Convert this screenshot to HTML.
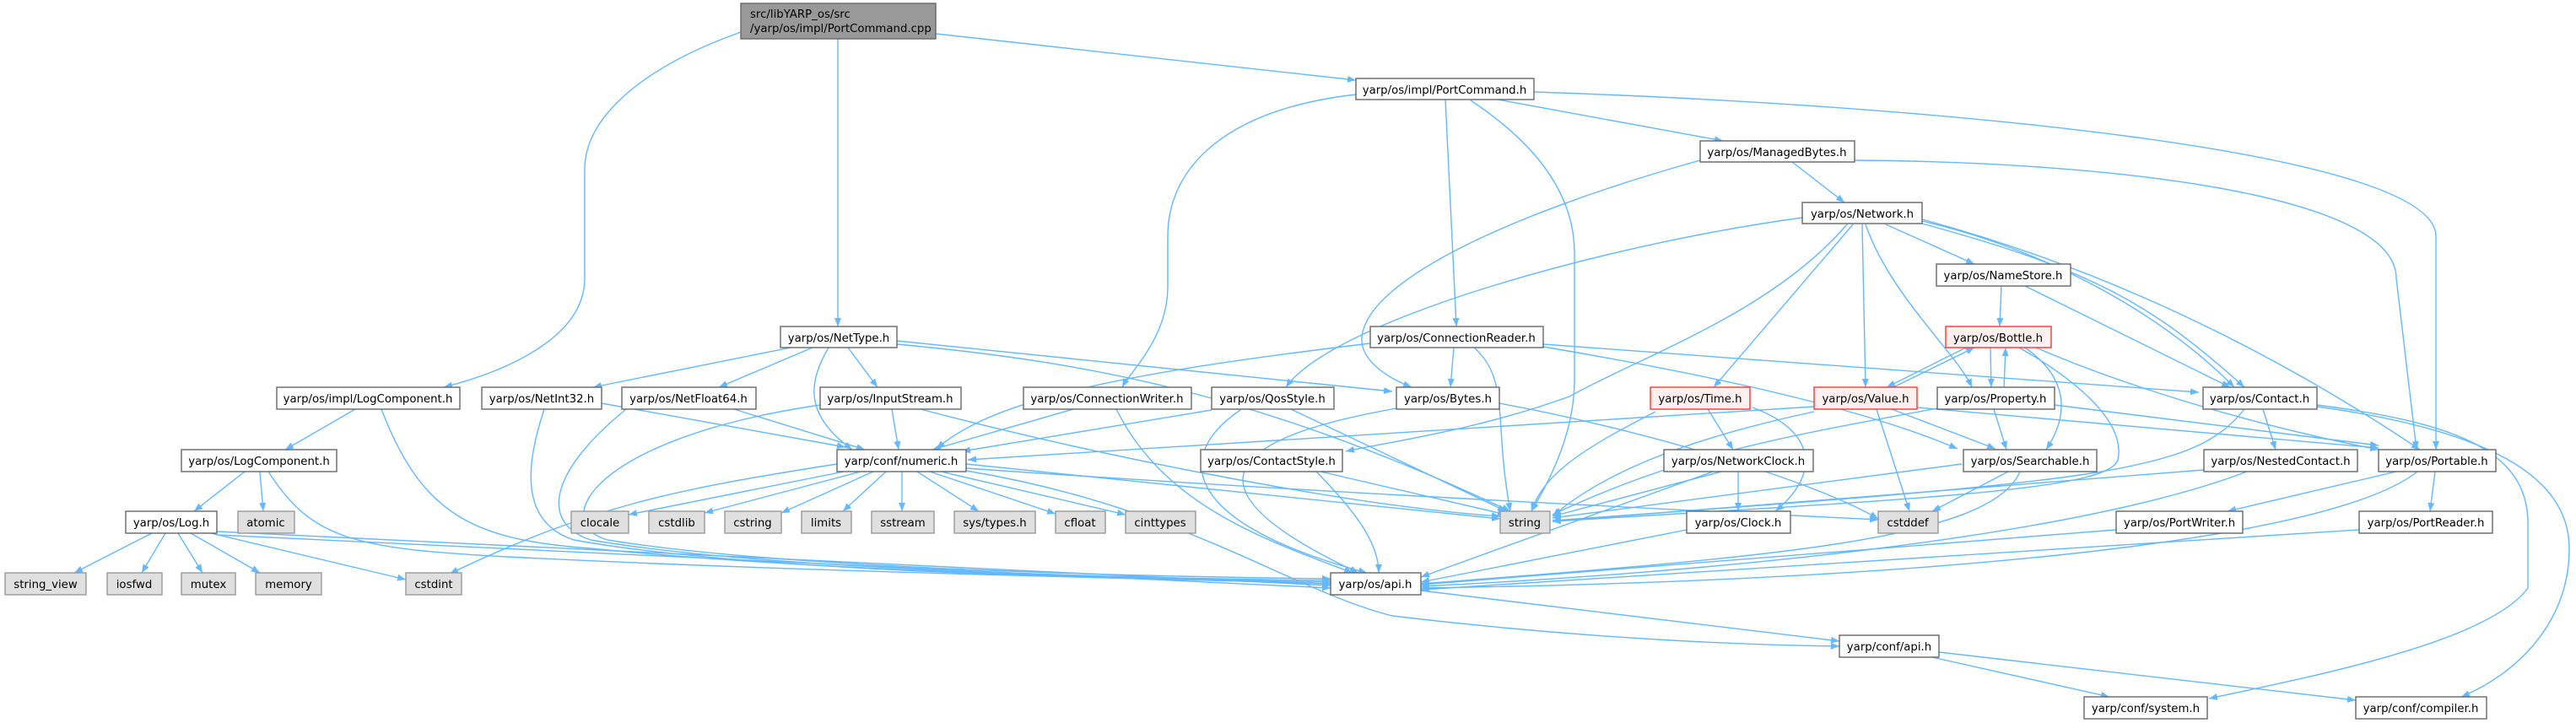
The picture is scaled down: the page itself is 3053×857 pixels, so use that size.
<!DOCTYPE html>
<html><head><meta charset="utf-8"><style>
html,body{margin:0;padding:0;background:#fff;}
svg{display:block;}
text{font-family:"DejaVu Sans","Liberation Sans",sans-serif;font-size:13.3px;fill:#000;}
.e{fill:none;stroke:#63b8ff;stroke-width:1.4;marker-end:url(#a);}
.n{fill:#fff;stroke:#666;stroke-width:1.4;}
.g{fill:#e0e0e0;stroke:#999;stroke-width:1.4;}
.r{fill:#fff0f0;stroke:#f33;stroke-width:1.4;}
.m{fill:#999;stroke:#666;stroke-width:1.4;}
</style></head><body>
<svg width="3053" height="857" viewBox="0 0 3053 857" xmlns="http://www.w3.org/2000/svg">
<defs><marker id="a" markerUnits="userSpaceOnUse" markerWidth="11" markerHeight="8" refX="10" refY="4" orient="auto"><path d="M0,0 L10,4 L0,8 z" fill="#63b8ff"/></marker></defs>
<g>
<path class="e" d="M878,38 C760,80 693,140 693,200 L693,330 C693,400 600,440 526,459"/>
<path class="e" d="M993,46 L993,387"/>
<path class="e" d="M1109,40 L1607,95"/>
<path class="e" d="M1607,112 C1450,130 1384,200 1384,280 L1384,340 C1384,400 1340,440 1330,459"/>
<path class="e" d="M1713,118 L1726,387"/>
<path class="e" d="M1743,119 C1820,170 1866,230 1866,300 L1866,450 C1866,520 1830,580 1815,606"/>
<path class="e" d="M1775,118 L2042,167"/>
<path class="e" d="M1818,109 C2300,125 2887,180 2887,280 L2887,533"/>
<path class="e" d="M2015,190 C1800,250 1620,330 1614,400 C1612,430 1650,450 1673,459"/>
<path class="e" d="M1723,412 L1719,459"/>
<path class="e" d="M2124,192 L2186,240"/>
<path class="e" d="M2198,190 C2500,192 2840,230 2840,330 L2864,533"/>
<path class="e" d="M2136,258 C1900,290 1580,380 1524,459"/>
<path class="e" d="M2189,266 C2100,370 1950,420 1860,470 C1750,510 1640,525 1595,535"/>
<path class="e" d="M2196,266 L2031,459"/>
<path class="e" d="M2207,266 L2211,459"/>
<path class="e" d="M2211,266 C2240,350 2320,420 2337,459"/>
<path class="e" d="M2235,266 L2340,313"/>
<path class="e" d="M2278,262 C2440,300 2570,380 2648,459"/>
<path class="e" d="M2278,265 C2480,320 2550,360 2660,459"/>
<path class="e" d="M2278,260 C2500,320 2700,420 2868,533"/>
<path class="e" d="M2372,339 L2370,387"/>
<path class="e" d="M2400,339 L2643,459"/>
<path class="e" d="M2330,412 L2236,459"/>
<path class="e" d="M2244,459 L2340,412"/>
<path class="e" d="M2359,412 L2360,459"/>
<path class="e" d="M2375,459 L2377,412"/>
<path class="e" d="M2400,412 C2440,440 2460,480 2425,533"/>
<path class="e" d="M2413,412 C2500,450 2650,500 2819,533"/>
<path class="e" d="M2393,412 C2460,450 2520,500 2510,545 C2500,580 2300,590 1840,618"/>
<path class="e" d="M2242,485 L2365,532"/>
<path class="e" d="M2272,483 L2819,531"/>
<path class="e" d="M2224,485 L2263,606"/>
<path class="e" d="M2150,482 L1147,545"/>
<path class="e" d="M2150,488 C2000,520 1900,560 1840,612"/>
<path class="e" d="M2363,485 L2378,533"/>
<path class="e" d="M2435,480 L2819,528"/>
<path class="e" d="M2296,484 C2100,520 1990,540 1840,610"/>
<path class="e" d="M2024,485 L2054,533"/>
<path class="e" d="M2077,483 C2150,510 2160,560 2104,606"/>
<path class="e" d="M1962,488 C1880,530 1830,560 1815,606"/>
<path class="e" d="M1777,478 C1950,510 2150,570 2226,615"/>
<path class="e" d="M1829,408 L2606,465"/>
<path class="e" d="M1829,411 C2000,440 2200,480 2320,532"/>
<path class="e" d="M1624,407 C1350,440 1180,470 1110,532"/>
<path class="e" d="M1747,412 C1790,450 1770,500 1790,606"/>
<path class="e" d="M937,412 L703,459"/>
<path class="e" d="M963,412 L852,459"/>
<path class="e" d="M1005,412 L1040,459"/>
<path class="e" d="M982,412 C960,450 950,490 1010,533"/>
<path class="e" d="M1063,404 L1650,464"/>
<path class="e" d="M1063,408 C1300,430 1500,470 1790,606"/>
<path class="e" d="M713,478 L1002,530"/>
<path class="e" d="M645,485 C620,560 620,620 680,640 C900,680 1400,688 1577,690"/>
<path class="e" d="M742,485 C650,560 640,620 700,640 C920,678 1400,686 1577,688"/>
<path class="e" d="M870,485 L1025,533"/>
<path class="e" d="M1057,485 L1065,533"/>
<path class="e" d="M972,480 C700,520 650,620 720,640 C940,676 1400,684 1577,686"/>
<path class="e" d="M1091,485 C1300,540 1600,600 1778,612"/>
<path class="e" d="M1272,485 L1105,533"/>
<path class="e" d="M1323,485 C1380,600 1500,640 1603,679"/>
<path class="e" d="M1436,486 L1140,535"/>
<path class="e" d="M1530,485 L1785,606"/>
<path class="e" d="M1470,486 C1390,540 1400,620 1620,679"/>
<path class="e" d="M1655,484 C1421,525 1420,590 1610,679"/>
<path class="e" d="M1565,559 L1785,610"/>
<path class="e" d="M1560,559 C1600,600 1634,640 1634,679"/>
<path class="e" d="M1000,559 L745,610"/>
<path class="e" d="M1020,559 L835,608"/>
<path class="e" d="M1035,559 L926,608"/>
<path class="e" d="M1050,559 L999,606"/>
<path class="e" d="M1069,559 L1069,606"/>
<path class="e" d="M1087,559 L1160,606"/>
<path class="e" d="M1102,559 L1251,609"/>
<path class="e" d="M1115,559 L1334,610"/>
<path class="e" d="M992,550 C800,580 700,600 533,680"/>
<path class="e" d="M1145,550 L1778,615"/>
<path class="e" d="M1145,555 C1500,580 1900,600 2226,616"/>
<path class="e" d="M1145,558 C1400,600 1530,700 1650,730 C1900,760 2100,765 2180,766"/>
<path class="e" d="M290,559 L230,606"/>
<path class="e" d="M308,559 L312,606"/>
<path class="e" d="M318,559 C370,640 420,650 600,660 C1000,680 1400,686 1577,692"/>
<path class="e" d="M421,485 L338,533"/>
<path class="e" d="M452,485 C500,610 560,640 700,650 C1000,680 1400,686 1577,690"/>
<path class="e" d="M180,632 L88,679"/>
<path class="e" d="M196,632 L168,679"/>
<path class="e" d="M211,632 L240,679"/>
<path class="e" d="M226,632 L308,679"/>
<path class="e" d="M250,632 L481,687"/>
<path class="e" d="M257,630 L1577,694"/>
<path class="e" d="M257,634 L1577,697"/>
<path class="e" d="M2040,559 L1840,612"/>
<path class="e" d="M2030,559 L1684,684"/>
<path class="e" d="M2060,559 L2060,606"/>
<path class="e" d="M1999,628 L1684,690"/>
<path class="e" d="M2325,550 L1840,614"/>
<path class="e" d="M2380,559 L2290,606"/>
<path class="e" d="M2394,559 C2360,640 2100,660 1684,692"/>
<path class="e" d="M2660,485 C2600,560 2500,570 1840,617"/>
<path class="e" d="M2682,485 L2697,533"/>
<path class="e" d="M2746,480 C2900,500 2996,530 2996,620 L2996,697 C2950,760 2750,800 2618,828"/>
<path class="e" d="M2746,482 C2950,510 3045,565 3045,650 C3045,740 2980,800 2917,826"/>
<path class="e" d="M2612,557 L1840,618"/>
<path class="e" d="M2663,559 C2450,640 2000,680 1684,695"/>
<path class="e" d="M2840,559 L2640,606"/>
<path class="e" d="M2886,559 L2880,606"/>
<path class="e" d="M2865,559 C2750,650 2200,690 1684,697"/>
<path class="e" d="M2508,628 L1684,693"/>
<path class="e" d="M2796,628 L1684,699"/>
<path class="e" d="M1684,700 L2180,760"/>
<path class="e" d="M2290,779 L2500,826"/>
<path class="e" d="M2298,773 L2792,830"/>
</g>
<g>
<rect class="m" x="878" y="4" width="231" height="42"/>
<text x="889" y="21">src/libYARP_os/src</text>
<text x="889" y="38">/yarp/os/impl/PortCommand.cpp</text>
</g>
<g text-anchor="middle">
<rect class="n" x="925" y="387" width="138" height="25"/><text x="994" y="405">yarp/os/NetType.h</text>
<rect class="n" x="1607" y="93" width="211" height="25"/><text x="1712" y="111">yarp/os/impl/PortCommand.h</text>
<rect class="n" x="2015" y="167" width="183" height="25"/><text x="2106" y="185">yarp/os/ManagedBytes.h</text>
<rect class="n" x="2136" y="240" width="142" height="25"/><text x="2207" y="258">yarp/os/Network.h</text>
<rect class="n" x="2295" y="313" width="159" height="26"/><text x="2374" y="331">yarp/os/NameStore.h</text>
<rect class="r" x="2306" y="387" width="125" height="25"/><text x="2368" y="405">yarp/os/Bottle.h</text>
<rect class="n" x="1624" y="387" width="205" height="25"/><text x="1726" y="405">yarp/os/ConnectionReader.h</text>
<rect class="n" x="328" y="459" width="217" height="26"/><text x="436" y="477">yarp/os/impl/LogComponent.h</text>
<rect class="n" x="571" y="459" width="142" height="26"/><text x="642" y="477">yarp/os/NetInt32.h</text>
<rect class="n" x="737" y="459" width="159" height="26"/><text x="816" y="477">yarp/os/NetFloat64.h</text>
<rect class="n" x="972" y="459" width="167" height="26"/><text x="1055" y="477">yarp/os/InputStream.h</text>
<rect class="n" x="1213" y="459" width="199" height="26"/><text x="1312" y="477">yarp/os/ConnectionWriter.h</text>
<rect class="n" x="1436" y="459" width="145" height="26"/><text x="1508" y="477">yarp/os/QosStyle.h</text>
<rect class="n" x="1655" y="459" width="122" height="26"/><text x="1716" y="477">yarp/os/Bytes.h</text>
<rect class="r" x="1956" y="459" width="118" height="26"/><text x="2015" y="477">yarp/os/Time.h</text>
<rect class="r" x="2150" y="459" width="122" height="26"/><text x="2211" y="477">yarp/os/Value.h</text>
<rect class="n" x="2296" y="459" width="139" height="26"/><text x="2365" y="477">yarp/os/Property.h</text>
<rect class="n" x="2611" y="459" width="135" height="26"/><text x="2678" y="477">yarp/os/Contact.h</text>
<rect class="n" x="215" y="533" width="184" height="26"/><text x="307" y="551">yarp/os/LogComponent.h</text>
<rect class="n" x="992" y="533" width="153" height="26"/><text x="1068" y="551">yarp/conf/numeric.h</text>
<rect class="n" x="1423" y="533" width="168" height="26"/><text x="1507" y="551">yarp/os/ContactStyle.h</text>
<rect class="n" x="1972" y="533" width="177" height="26"/><text x="2060" y="551">yarp/os/NetworkClock.h</text>
<rect class="n" x="2327" y="533" width="158" height="26"/><text x="2406" y="551">yarp/os/Searchable.h</text>
<rect class="n" x="2612" y="533" width="182" height="26"/><text x="2703" y="551">yarp/os/NestedContact.h</text>
<rect class="n" x="2819" y="533" width="139" height="26"/><text x="2888" y="551">yarp/os/Portable.h</text>
<rect class="n" x="149" y="606" width="108" height="26"/><text x="203" y="624">yarp/os/Log.h</text>
<rect class="g" x="282" y="606" width="67" height="26"/><text x="315" y="624">atomic</text>
<rect class="g" x="677" y="606" width="68" height="26"/><text x="711" y="624">clocale</text>
<rect class="g" x="769" y="606" width="66" height="26"/><text x="802" y="624">cstdlib</text>
<rect class="g" x="859" y="606" width="67" height="26"/><text x="892" y="624">cstring</text>
<rect class="g" x="950" y="606" width="59" height="26"/><text x="979" y="624">limits</text>
<rect class="g" x="1033" y="606" width="74" height="26"/><text x="1070" y="624">sstream</text>
<rect class="g" x="1131" y="606" width="96" height="26"/><text x="1179" y="624">sys/types.h</text>
<rect class="g" x="1251" y="606" width="59" height="26"/><text x="1280" y="624">cfloat</text>
<rect class="g" x="1334" y="606" width="83" height="26"/><text x="1375" y="624">cinttypes</text>
<rect class="g" x="1778" y="606" width="59" height="26"/><text x="1807" y="624">string</text>
<rect class="n" x="1999" y="606" width="123" height="26"/><text x="2060" y="624">yarp/os/Clock.h</text>
<rect class="g" x="2226" y="606" width="71" height="26"/><text x="2261" y="624">cstddef</text>
<rect class="n" x="2508" y="606" width="150" height="26"/><text x="2583" y="624">yarp/os/PortWriter.h</text>
<rect class="n" x="2796" y="606" width="158" height="26"/><text x="2875" y="624">yarp/os/PortReader.h</text>
<rect class="g" x="6" y="679" width="96" height="26"/><text x="54" y="697">string_view</text>
<rect class="g" x="127" y="679" width="65" height="26"/><text x="159" y="697">iosfwd</text>
<rect class="g" x="215" y="679" width="64" height="26"/><text x="247" y="697">mutex</text>
<rect class="g" x="303" y="679" width="78" height="26"/><text x="342" y="697">memory</text>
<rect class="g" x="481" y="679" width="66" height="26"/><text x="514" y="697">cstdint</text>
<rect class="n" x="1577" y="679" width="107" height="26"/><text x="1630" y="697">yarp/os/api.h</text>
<rect class="n" x="2180" y="753" width="118" height="26"/><text x="2239" y="771">yarp/conf/api.h</text>
<rect class="n" x="2470" y="826" width="146" height="26"/><text x="2543" y="844">yarp/conf/system.h</text>
<rect class="n" x="2792" y="826" width="155" height="26"/><text x="2869" y="844">yarp/conf/compiler.h</text>
</g>
</svg>
</body></html>
